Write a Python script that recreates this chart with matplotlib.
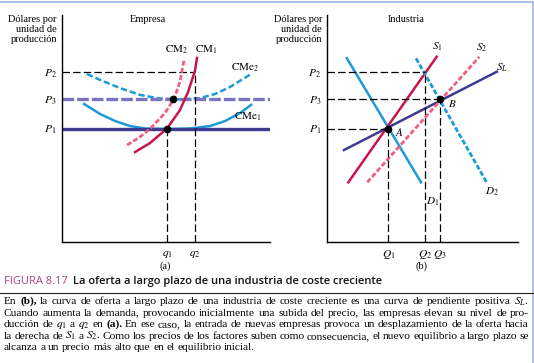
import matplotlib
matplotlib.use('Agg')
import matplotlib.pyplot as plt
from matplotlib.lines import Line2D

plt.rcParams['font.family'] = ['Liberation Serif', 'DejaVu Serif']
plt.rcParams['mathtext.fontset'] = 'stix'

W, H = 534, 363

# ---- datos (a) Empresa ----
p1, p3, p2 = 5.0, 6.28, 7.5
q1, q2 = 5.05, 6.4
q_cm2 = 5.35  # corte de CM2 con P3

cm1_x = [3.51, 4.23, 5.05, 5.67, 6.06, 6.39, 6.49]
cm1_y = [3.96, 4.36, 5.0, 5.81, 6.61, 7.53, 8.11]
cm2_x = [3.13, 3.75, 4.23, 4.95, 5.38, 5.67, 5.87]
cm2_y = [4.27, 4.63, 4.98, 5.68, 6.30, 7.05, 8.02]
cme1_x = [1.06, 1.83, 2.55, 3.27, 3.99, 5.05, 6.15, 7.12, 7.84, 8.56, 9.09]
cme1_y = [6.08, 5.64, 5.33, 5.11, 5.0, 4.98, 5.0, 5.11, 5.33, 5.68, 6.04]
cme2_x = [1.20, 1.83, 2.79, 3.75, 4.71, 5.67, 6.63, 7.36, 8.08, 9.09]
cme2_y = [7.40, 7.14, 6.78, 6.48, 6.32, 6.28, 6.34, 6.52, 6.83, 7.40]

# ---- datos (b) Industria ----
Q1, Q2, Q3 = 3.22, 5.15, 5.94
d1_x, d1_y = [1.05, 4.93], [8.1, 2.63]
s1_x, s1_y = [1.13, 5.75], [2.63, 8.16]
s2_x, s2_y = [2.12, 7.98], [2.63, 8.16]
d2_x, d2_y = [4.67, 8.36], [8.09, 2.63]
sl_x, sl_y = [0.9, 8.89], [4.05, 7.5]

crimson = '#c8164a'
pink = '#f0607f'
blue = '#1e9bd7'
navy = '#3d3b91'
purple = '#7b74c0'
mag = '#a9467f'
dash = (0, (6, 2.5))
fs_lab = 8

fig = plt.figure(figsize=(W / 100, H / 100), dpi=100)

def fx(px):
  return px / W

def fy(py):
  return 1 - py / H

def setup(ax):
  ax.set_xlim(0, 10)
  ax.set_ylim(0, 10)
  for s in ['top', 'right']:
    ax.spines[s].set_visible(False)
  for s in ['left', 'bottom']:
    ax.spines[s].set_linewidth(1.0)
  ax.tick_params(length=0, labelsize=8.3)
  ax.tick_params(axis='y', pad=4)
  ax.tick_params(axis='x', pad=4)
  ax.set_yticks([p1, p3, p2])
  ax.set_yticklabels([r'$P_1$', r'$P_3$', r'$P_2$'])

# (a)
ax1 = fig.add_axes([fx(62), fy(242), fx(208), 227 / H])
setup(ax1)
ax1.set_xticks([q1, q2])
ax1.set_xticklabels([r'$q_1$', r'$q_2$'])
ax1.plot(cme2_x, cme2_y, color=blue, lw=1.8, ls=(0, (2.5, 1.2)))
ax1.plot(cme1_x, cme1_y, color=blue, lw=1.8)
ax1.axhline(p1, color=navy, lw=2.4)
ax1.axhline(p3, color=purple, lw=2.4, ls=(0, (3.5, 0.9)))
ax1.plot([0, q2], [p2, p2], color='k', lw=0.9, ls=dash)
ax1.plot([q1, q1], [0, p1], color='k', lw=0.9, ls=dash)
ax1.plot([q2, q2], [0, p2], color='k', lw=0.9, ls=dash)
ax1.plot(cm2_x, cm2_y, color=pink, lw=2, ls=(0, (1.8, 0.8)))
ax1.plot(cm1_x, cm1_y, color=crimson, lw=1.8)
ax1.plot([q1, q_cm2], [p1, p3], 'o', color='k', ms=4.5)
ax1.text(5.53, 8.19, r'$\mathrm{CM}_2$', fontsize=fs_lab, ha='center', va='bottom')
ax1.text(6.92, 8.19, r'$\mathrm{CM}_1$', fontsize=fs_lab, ha='center', va='bottom')
ax1.text(8.8, 7.67, r'$\mathrm{CMe}_2$', fontsize=fs_lab, ha='center', va='center')
ax1.text(8.94, 5.5, r'$\mathrm{CMe}_1$', fontsize=fs_lab, ha='center', va='center')
ax1.text(4.13, 9.78, 'Empresa', fontsize=7.5, ha='center', va='center')

# (b)
ax2 = fig.add_axes([fx(326.7), fy(242), fx(191.3), 227 / H])
setup(ax2)
ax2.set_xticks([Q1, Q2, Q3])
ax2.set_xticklabels([r'$Q_1$', r'$Q_2$', r'$Q_3$'])
ax2.plot(d1_x, d1_y, color=blue, lw=1.8)
ax2.plot(s1_x, s1_y, color=crimson, lw=1.8)
ax2.plot(sl_x, sl_y, color=navy, lw=1.8)
ax2.plot(s2_x, s2_y, color=pink, lw=2, ls=(0, (1.8, 0.8)))
ax2.plot(d2_x, d2_y, color=blue, lw=2, ls=(0, (1.8, 0.8)))
ax2.plot([0, Q2], [p2, p2], color='k', lw=0.9, ls=dash)
ax2.plot([0, Q3], [p3, p3], color='k', lw=0.9, ls=dash)
ax2.plot([0, Q1], [p1, p1], color='k', lw=0.9, ls=dash)
ax2.plot([Q1, Q1], [0, p1], color='k', lw=0.9, ls=dash)
ax2.plot([Q2, Q2], [0, p2], color='k', lw=0.9, ls=dash)
ax2.plot([Q3, Q3], [0, p3], color='k', lw=0.9, ls=dash)
ax2.plot([Q1, Q3], [p1, p3], 'o', color='k', ms=4.5)
ax2.text(5.77, 8.59, r'$S_1$', fontsize=fs_lab, ha='center', va='center')
ax2.text(8.1, 8.55, r'$S_2$', fontsize=fs_lab, ha='center', va='center')
ax2.text(9.16, 7.67, r'$S_L$', fontsize=fs_lab, ha='center', va='center')
ax2.text(3.78, 4.85, r'$A$', fontsize=fs_lab, ha='center', va='center')
ax2.text(6.55, 6.12, r'$B$', fontsize=fs_lab, ha='center', va='center')
ax2.text(5.54, 1.78, r'$D_1$', fontsize=fs_lab, ha='center', va='center')
ax2.text(8.63, 2.22, r'$D_2$', fontsize=fs_lab, ha='center', va='center')
ax2.text(4.15, 9.78, 'Industria', fontsize=7.5, ha='center', va='center')

ylab = 'Dólares por\nunidad de\nproducción'
fig.text(fx(57), fy(15), ylab, fontsize=7.5, ha='right', va='top', linespacing=1.15)
fig.text(fx(322), fy(15), ylab, fontsize=7.5, ha='right', va='top', linespacing=1.15)
fig.text(fx(165), fy(266), '(a)', fontsize=7.5, ha='center', va='center')
fig.text(fx(421.7), fy(266), '(b)', fontsize=7.5, ha='center', va='center')

# marco
fig.add_artist(Line2D([0, fx(532.5)], [fy(2), fy(2)], color='#a9bce6', lw=1.3))
fig.add_artist(Line2D([fx(532.5), fx(532.5)], [fy(2), 0], color='#a9bce6', lw=1.3))
fig.add_artist(Line2D([0, fx(532.5)], [fy(293), fy(293)], color='#222222', lw=0.8))

# titulo
r = fig.canvas.get_renderer()
t1 = fig.text(fx(4), fy(284), 'FIGURA 8.17', color=mag, family='Open Sans',
              fontsize=8.0, va='baseline')
w1 = t1.get_window_extent(r).width
fig.text(fx(4 + w1 + 5), fy(284), 'La oferta a largo plazo de una industria de coste creciente',
         color='#111111', family='Open Sans', fontsize=8.0, fontweight='semibold',
         va='baseline')

lines = [
  'En (b), la curva de oferta a largo plazo de una industria de coste creciente es una curva de pendiente positiva $S_L$.',
  'Cuando aumenta la demanda, provocando inicialmente una subida del precio, las empresas elevan su nivel de pro-',
  'ducción de $q_1$ a $q_2$ en (a). En ese caso, la entrada de nuevas empresas provoca un desplazamiento de la oferta hacia',
  'la derecha de $S_1$ a $S_2$. Como los precios de los factores suben como consecuencia, el nuevo equilibrio a largo plazo se',
  'alcanza a un precio más alto que en el equilibrio inicial.',
]

def texto_justificado(line, ybase, x0, x1, justify):
  words = line.split(' ')
  arts = []
  for w in words:
    bold = '(a)' in w or '(b)' in w
    arts.append(fig.text(0, fy(ybase), w, fontsize=8.2, va='baseline',
                         fontweight='bold' if bold else 'normal'))
  widths = [a.get_window_extent(r).width for a in arts]
  if justify:
    gap = (x1 - x0 - sum(widths)) / (len(words) - 1)
  else:
    gap = 2.7
  x = x0
  for a, w in zip(arts, widths):
    a.set_x(fx(x))
    x += w + gap

for i, line in enumerate(lines):
  texto_justificado(line, 304 + i * 11.6, 4, 529, i < len(lines) - 1)

fig.savefig('out.png', dpi=100)
